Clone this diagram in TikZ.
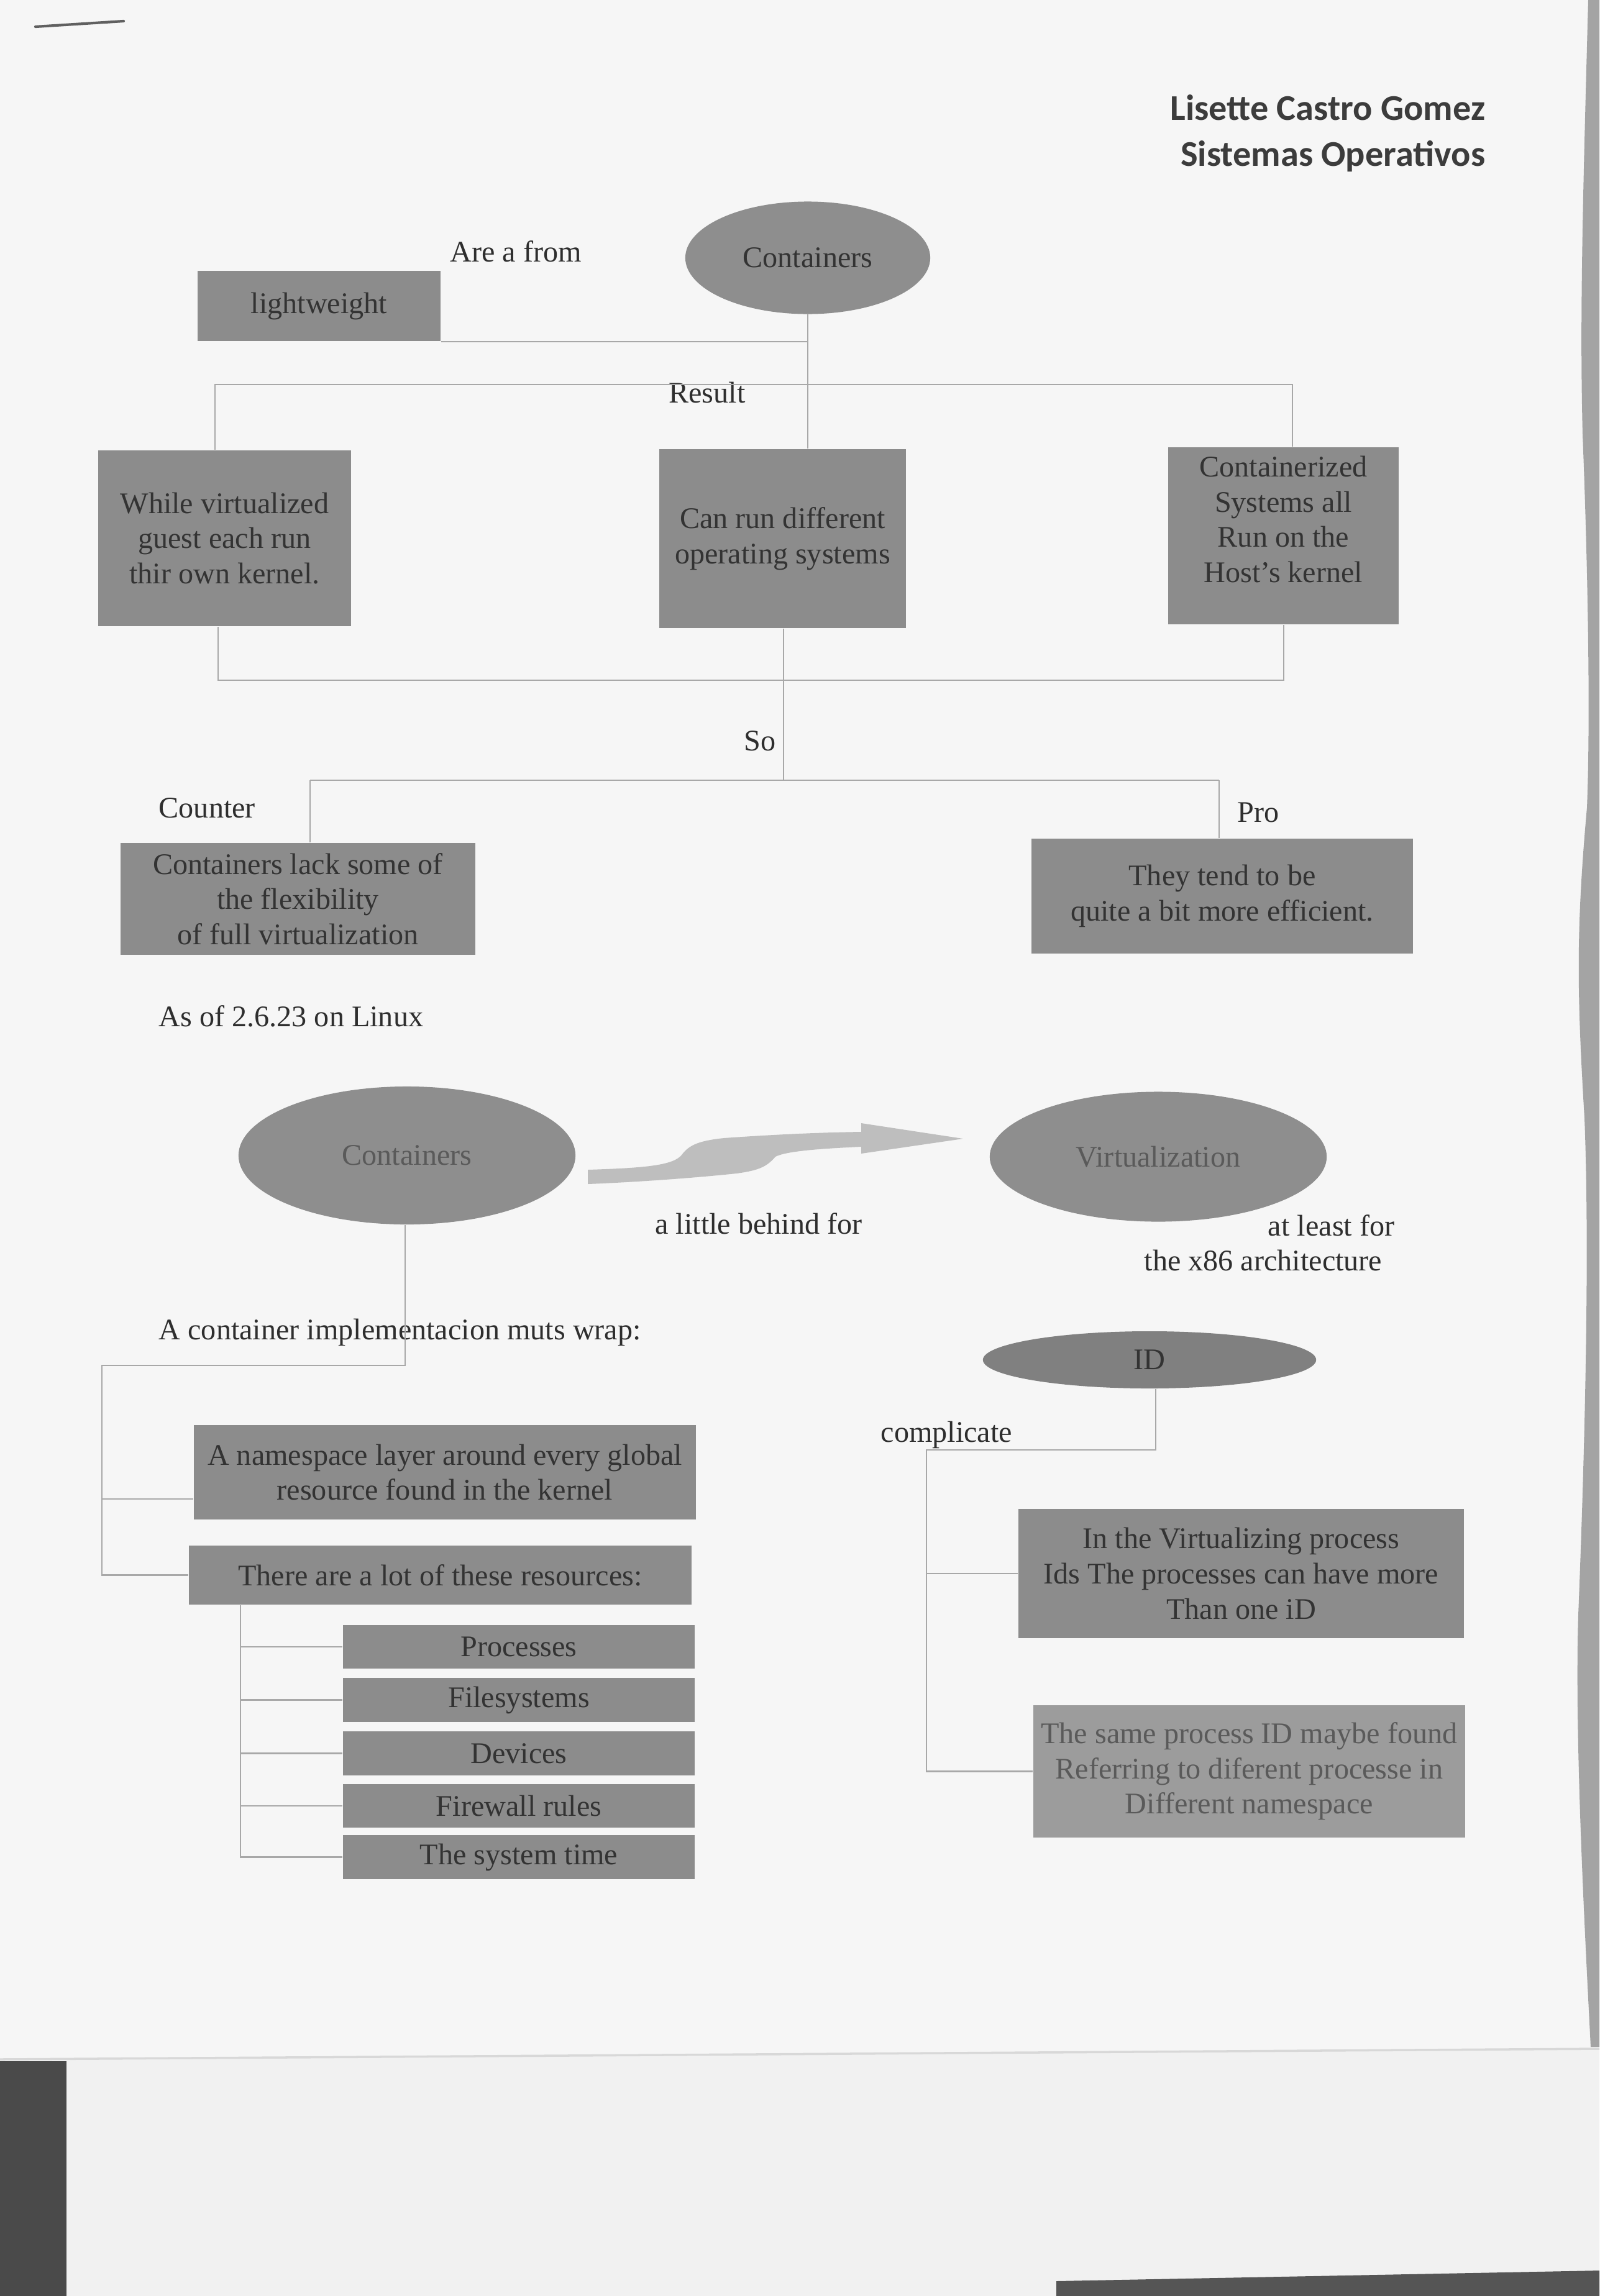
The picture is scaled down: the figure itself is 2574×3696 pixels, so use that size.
\documentclass[tikz,border=0pt]{standalone}
\usepackage{fontspec}
\setmainfont{Liberation Serif}
\newfontfamily\titlefont{Carlito}
\usetikzlibrary{shapes.geometric}
\definecolor{pagebg}{HTML}{F6F6F6}
\definecolor{boxgray}{HTML}{8C8C8C}
\definecolor{boxlight}{HTML}{9C9C9C}
\definecolor{ellgray}{HTML}{8E8E8E}
\definecolor{iddark}{HTML}{808080}
\definecolor{boxtext}{HTML}{333333}
\definecolor{softtext}{HTML}{5A5A5A}
\definecolor{labeltext}{HTML}{2E2E2E}
\definecolor{linegray}{HTML}{A8A8A8}
\definecolor{arrowgray}{HTML}{BEBEBE}
\definecolor{titlegray}{HTML}{3C3C3C}
\definecolor{edgegray}{HTML}{A4A4A4}
\definecolor{lowerbg}{HTML}{F1F1F1}
\definecolor{foldgray}{HTML}{D8D8D8}
\definecolor{darkstrip}{HTML}{4A4A4A}
\definecolor{darkstripb}{HTML}{555555}
\definecolor{dashgray}{HTML}{606060}
\newcommand\bodyfont{\fontsize{13.7}{16.1}\selectfont}
\tikzset{
  bx/.style={rectangle, fill=boxgray, text=boxtext, align=center, inner sep=0pt, font=\bodyfont},
  ell/.style={ellipse, fill=ellgray, text=boxtext, inner sep=0pt, font=\bodyfont},
  lbl/.style={text=labeltext, font=\bodyfont, inner sep=0pt},
  ttl/.style={text=titlegray, font=\titlefont\bfseries\fontsize{16.6}{21}\selectfont, inner sep=0pt},
  conn/.style={draw=linegray, line width=0.6pt},
}
\begin{document}
\begin{tikzpicture}[x=0.01cm,y=-0.01cm]
\useasboundingbox (0,0) rectangle (2574,3696);
% page background
\fill[pagebg] (0,0) rectangle (2574,3696);
\fill[edgegray] (2574,0) -- (2556,0) .. controls (2548,300) and (2542,500) .. (2547,700)
  .. controls (2555,900) and (2560,1150) .. (2554,1300) .. controls (2536,1500) and (2538,1600) .. (2550,1800)
  .. controls (2558,2000) and (2552,2300) .. (2540,2600) .. controls (2534,2800) and (2550,3100) .. (2560,3295)
  -- (2574,3295) -- cycle;
\fill[lowerbg] (0,3315) -- (2574,3298) -- (2574,3696) -- (0,3696) -- cycle;
\draw[foldgray, line width=1pt] (0,3315) -- (2574,3298);
\fill[darkstrip] (0,3318) rectangle (107,3696);
\fill[darkstripb] (1700,3672) -- (2574,3655) -- (2574,3696) -- (1700,3696) -- cycle;
\draw[dashgray, line width=1.2pt, line cap=round] (57,43) -- (199,34);

% title
\node[ttl, anchor=base east] (t1) at (2391,193) {Lisette Castro Gomez};
\node[ttl, anchor=base east] (t2) at (2391,267) {Sistemas Operativos};

% top section
\node[ell, minimum width=3.94cm, minimum height=1.81cm] (c1) at (1300,415) {Containers};
\node[lbl] (arefrom) at (830,405) {Are a from};
\node[bx, minimum width=3.91cm, minimum height=1.13cm] (lw) at (513.5,492.5) {lightweight};
\node[bx, minimum width=4.07cm, minimum height=2.83cm] (left1) at (361.5,866.5) {While virtualized\\guest each run\\thir own kernel.};
\node[bx, minimum width=3.97cm, minimum height=2.88cm] (mid1) at (1259.5,867) {Can run different\\operating systems};
\node[bx, minimum width=3.71cm, minimum height=2.85cm] (right1) at (2065.5,862.5) {};
\node[bx, fill=none] (right1t) at (2065.5,836) {Containerized\\Systems all\\Run on the\\Host's kernel};
\node[lbl] (result) at (1138,632) {Result};

\coordinate (bL) at (346,619);
\coordinate (bR) at (2080,619);
\draw[conn] (c1.south) -- (c1.south |- mid1.north);
\draw[conn] (lw.south east) -- (lw.south east -| c1.south);
\draw[conn] (left1.north -| bL) -- (bL) -- (bR) -- (right1.north -| bR);

\coordinate (dL) at (351,1095);
\coordinate (dR) at (2066,1095);
\coordinate (dM) at (1261,1095);
\coordinate (sL) at (499,1256);
\coordinate (sR) at (1962,1256);
\draw[conn] (left1.south -| dL) -- (dL) -- (dR) -- (right1.south -| dR);
\draw[conn] (mid1.south -| dM) -- (dM |- sL);
\draw[conn] (sL) -- (sR);

\node[lbl] (so) at (1223,1193) {So};
\node[lbl, anchor=west] (counterlbl) at (255,1301) {Counter};
\node[lbl] (prolbl) at (2025,1308) {Pro};
\node[bx, minimum width=5.71cm, minimum height=1.80cm] (counter) at (479.5,1447) {Containers lack some of\\the flexibility\\of full virtualization};
\node[bx, minimum width=6.14cm, minimum height=1.85cm] (pro) at (1967,1442.5) {They tend to be\\quite a bit more efficient.};
\draw[conn] (counter.north -| sL) -- (sL);
\draw[conn] (pro.north -| sR) -- (sR);

\node[lbl, anchor=west] (asof) at (255,1636) {As of 2.6.23 on Linux};

% middle section
\node[ell, text=softtext, minimum width=5.42cm, minimum height=2.22cm] (c2) at (655,1860) {Containers};
\node[ell, text=softtext, minimum width=5.42cm, minimum height=2.09cm] (virt) at (1864,1862) {Virtualization};
\fill[arrowgray] (946,1883) .. controls (1040,1880) and (1085,1876) .. (1098,1858)
  .. controls (1110,1842) and (1128,1836) .. (1165,1832)
  .. controls (1250,1826) and (1320,1823) .. (1386,1822)
  -- (1386,1808) -- (1550,1833) -- (1386,1857) -- (1386,1846)
  .. controls (1320,1849) and (1265,1853) .. (1248,1862)
  .. controls (1234,1878) and (1222,1884) .. (1185,1889)
  .. controls (1100,1898) and (1000,1904) .. (946,1906) -- cycle;
\node[lbl] (behind) at (1221,1970) {a little behind for};
\node[lbl, anchor=east] (atleast) at (2245,1973) {at least for};
\node[lbl, anchor=east] (x86) at (2225,2029) {the x86 architecture};
\node[lbl, anchor=west] (wrap) at (255,2145) {A container implementacion muts wrap:};

% lower left
\node[bx, minimum width=8.08cm, minimum height=1.52cm] (ns) at (716,2370) {A namespace layer around every global\\resource found in the kernel};
\node[bx, minimum width=8.09cm, minimum height=0.95cm] (lot) at (708.5,2535.5) {There are a lot of these resources:};
\node[bx, minimum width=5.66cm, minimum height=0.70cm] (s1) at (835,2651) {Processes};
\node[bx, minimum width=5.66cm, minimum height=0.71cm] (s2) at (835,2736.5) {Filesystems};
\node[bx, minimum width=5.66cm, minimum height=0.71cm] (s3) at (835,2822.5) {Devices};
\node[bx, minimum width=5.66cm, minimum height=0.70cm] (s4) at (835,2907) {Firewall rules};
\node[bx, minimum width=5.66cm, minimum height=0.71cm] (s5) at (835,2989.5) {The system time};

\coordinate (wA) at (652,2198);
\coordinate (wB) at (164,2198);
\coordinate (wN) at (164,2413);
\draw[conn] (c2.south -| wA) -- (wA) -- (wB) |- (lot.west);
\draw[conn] (wN) -- (ns.west |- wN);
\coordinate (lx) at (387,2583);
\draw[conn] (lot.south -| lx) |- (s5.west);
\draw[conn] (lx |- s1.west) -- (s1.west);
\draw[conn] (lx |- s2.west) -- (s2.west);
\draw[conn] (lx |- s3.west) -- (s3.west);
\draw[conn] (lx |- s4.west) -- (s4.west);

% lower right
\node[ell, fill=iddark, minimum width=5.36cm, minimum height=0.92cm] (id) at (1850,2189) {ID};
\node[lbl, anchor=west] (compl) at (1417,2310) {complicate};
\node[bx, minimum width=7.17cm, minimum height=2.08cm] (v1) at (1997.5,2533) {In the Virtualizing process\\Ids The processes can have more\\Than one iD};
\node[bx, fill=boxlight, text=softtext, minimum width=6.95cm, minimum height=2.13cm] (v2) at (2010.5,2851.5) {The same process ID maybe found\\Referring to diferent processe in\\Different namespace};
\coordinate (iA) at (1860,2334);
\coordinate (iB) at (1491,2334);
\draw[conn] (id.south -| iA) -- (iA) -- (iB) |- (v2.west);
\draw[conn] (iB |- v1.west) -- (v1.west);
\end{tikzpicture}
\end{document}
